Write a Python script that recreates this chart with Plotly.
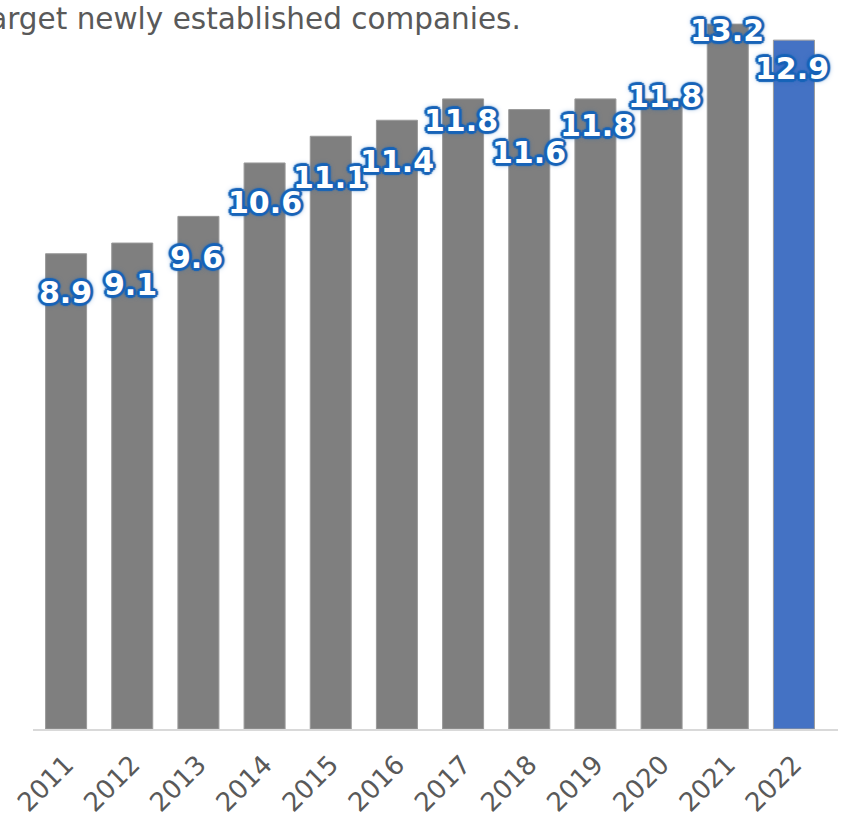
import plotly.graph_objects as go

# datos
years = ["2011", "2012", "2013", "2014", "2015", "2016",
         "2017", "2018", "2019", "2020", "2021", "2022"]
values = [8.9, 9.1, 9.6, 10.6, 11.1, 11.4, 11.8, 11.6, 11.8, 11.8, 13.2, 12.9]
title_text = "Target newly established companies."

# estilo
bar_colors = ["#7f7f7f"] * 11 + ["#4472c4"]
label_dy = [-39, -41, -41, -40, -41, -41, -22, -43, -27, 2, -6, -28]
label_dx = [-1, -2, -2, 0, -1, 0, -2, 0, 2, 3, -1, -2]

blue = "#1763b8"
outline = ", ".join(
    f"{dx}px {dy}px 1px {blue}"
    for dx, dy in [(-2, -2), (2, -2), (-2, 2), (2, 2), (0, -3), (0, 3), (-3, 0), (3, 0)]
) + f", 0px 0px 6px {blue}"

bars = go.Bar(
    x=years,
    y=values,
    marker=dict(color=bar_colors, line=dict(color="#9a9a9a", width=1)),
    hoverinfo="x+y",
)

annotations = []
for i, v in enumerate(values):
    annotations.append(dict(
        x=i, y=v, xref="x", yref="y",
        text=f"{v:.1f}",
        showarrow=False,
        xanchor="center", yanchor="middle",
        xshift=label_dx[i], yshift=label_dy[i],
        font=dict(family="DejaVu Sans", size=30, color="white",
                  weight="bold", shadow=outline),
    ))

annotations.append(dict(
    x=0, y=1, xref="paper", yref="paper",
    text=title_text, showarrow=False,
    xanchor="left", yanchor="top",
    xshift=-60, yshift=0,
    font=dict(family="DejaVu Sans", size=29.5, color="#595959"),
))

layout = go.Layout(
    width=846, height=822,
    margin=dict(l=33, r=8, t=0, b=93),
    paper_bgcolor="white",
    plot_bgcolor="white",
    bargap=0.38,
    showlegend=False,
    xaxis=dict(
        type="category",
        tickangle=-45,
        tickfont=dict(family="DejaVu Sans", size=26, color="#595959"),
        ticklabelstandoff=8,
        showline=True, linecolor="#d9d9d9", linewidth=2,
        showgrid=False, ticks="",
        range=[-0.5, 11.5 + 11 / 66.2],
    ),
    yaxis=dict(
        range=[0, 729 / 53.4],
        showgrid=False, showticklabels=False, zeroline=False,
    ),
    annotations=annotations,
)

fig = go.Figure(data=[bars], layout=layout)
# quitar el margen del body para que la figura arranque en 0,0
fig.write_html("out.html", config={"displayModeBar": False},
               post_script="document.body.style.margin='0';")
